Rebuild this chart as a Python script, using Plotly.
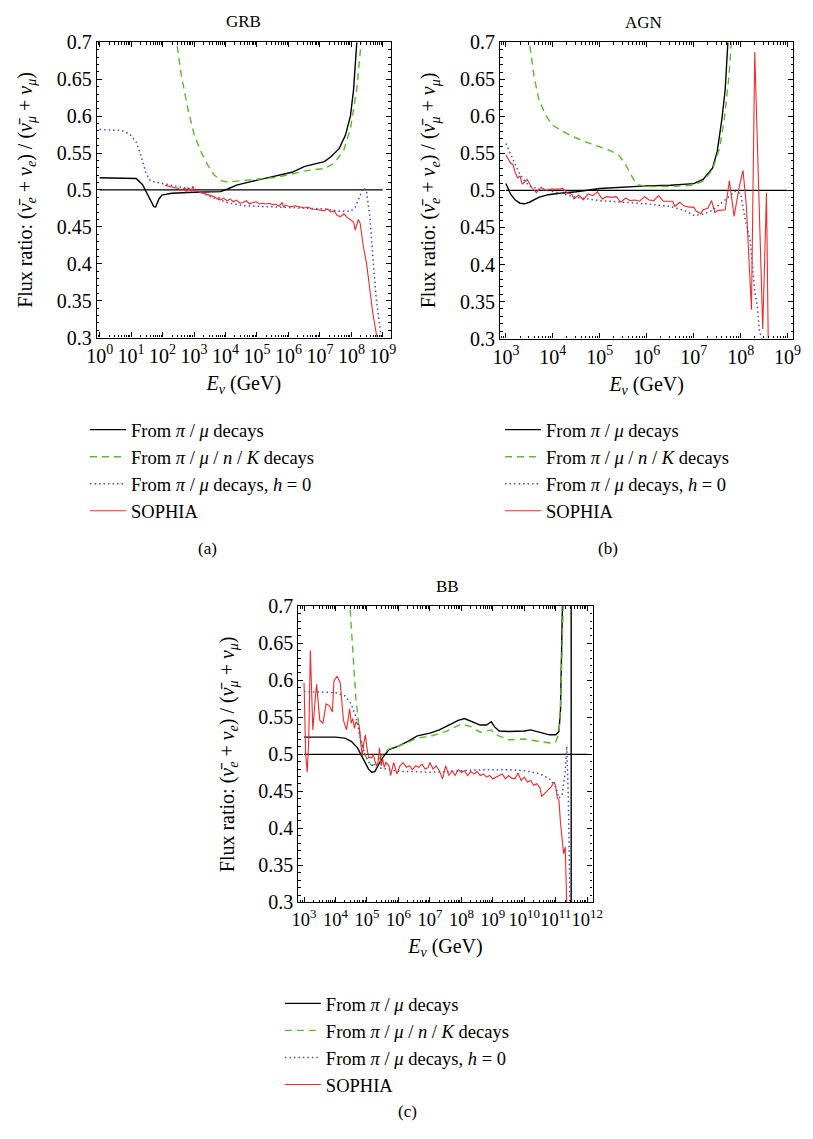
import numpy as np
import plotly.graph_objects as go

# ---------------- data (log10 of E in GeV, flux ratio) ----------------
# Panel (a) GRB
grb_pimu_logE = [0, 0.95, 1.16, 1.36, 1.52, 1.62, 1.72, 1.78, 1.88, 1.98, 2.29, 3.01, 3.53, 3.84,
                 4.05, 4.35, 4.77, 5.08, 5.59, 6.11, 6.52, 6.83, 7.14, 7.35, 7.61, 7.81, 7.97, 8.07,
                 8.17, 8.20, 8.30]
grb_pimu_ratio = [0.5165, 0.516, 0.5155, 0.5075, 0.494, 0.4855, 0.4775, 0.477, 0.4875, 0.493, 0.4955,
                  0.497, 0.497, 0.4977, 0.501, 0.5066, 0.511, 0.514, 0.5186, 0.524, 0.532, 0.535,
                  0.5385, 0.545, 0.556, 0.574, 0.600, 0.636, 0.685, 0.700, 0.780]
grb_all_logE = [2.40, 2.45, 2.60, 2.81, 3.01, 3.22, 3.43, 3.63, 3.84, 4.05, 4.35, 4.77, 5.08, 5.59,
                6.11, 6.62, 7.14, 7.45, 7.76, 7.97, 8.17, 8.28, 8.31, 8.38]
grb_all_ratio = [0.76, 0.70, 0.654, 0.609, 0.574, 0.552, 0.534, 0.521, 0.513, 0.5106, 0.512, 0.514,
                 0.5155, 0.517, 0.5217, 0.5266, 0.529, 0.536, 0.554, 0.583, 0.636, 0.680, 0.700, 0.780]
grb_h0_logE = [0, 0.70, 0.95, 1.16, 1.31, 1.47, 1.62, 1.98, 2.50, 3.01, 3.53, 4.05, 4.56, 5.08, 5.59,
               6.11, 6.62, 7.14, 7.66, 7.97, 8.12, 8.28, 8.38, 8.48, 8.59, 8.69, 8.79, 8.90, 8.95, 9.00]
grb_h0_ratio = [0.582, 0.5806, 0.576, 0.565, 0.547, 0.523, 0.512, 0.5089, 0.5053, 0.500, 0.4907,
                0.483, 0.4787, 0.4778, 0.4774, 0.4765, 0.4752, 0.4743, 0.471, 0.471, 0.4765, 0.492,
                0.503, 0.4987, 0.463, 0.4056, 0.3525, 0.317, 0.300, 0.280]
grb_sophia_logE = [2.08, 2.19, 2.29, 2.39, 2.50, 2.60, 2.70, 2.76, 2.81, 2.91, 2.96, 3.01, 3.12, 3.22,
                   3.32, 3.43, 3.53, 3.63, 3.74, 3.79, 3.84, 3.94, 4.05, 4.15, 4.25, 4.35, 4.46, 4.56,
                   4.66, 4.77, 4.87, 4.97, 5.08, 5.18, 5.28, 5.39, 5.49, 5.59, 5.70, 5.80, 5.85, 5.90,
                   6.01, 6.11, 6.21, 6.32, 6.42, 6.52, 6.63, 6.73, 6.83, 6.93, 7.04, 7.14, 7.24, 7.35,
                   7.45, 7.55, 7.66, 7.76, 7.86, 7.97, 8.07, 8.12, 8.17, 8.22, 8.28, 8.38, 8.48, 8.59,
                   8.69, 8.79, 8.82, 8.85]
grb_sophia_ratio = [0.5062, 0.505, 0.5044, 0.503, 0.502, 0.4995, 0.503, 0.497, 0.503, 0.4987, 0.505,
                    0.4995, 0.498, 0.4965, 0.495, 0.4934, 0.492, 0.491, 0.4876, 0.490, 0.4863, 0.489,
                    0.4854, 0.4876, 0.484, 0.4863, 0.482, 0.483, 0.4854, 0.481, 0.483, 0.484, 0.481,
                    0.482, 0.481, 0.482, 0.480, 0.481, 0.478, 0.483, 0.4765, 0.4796, 0.478, 0.4774,
                    0.4785, 0.4774, 0.4765, 0.4756, 0.4768, 0.4743, 0.4738, 0.473, 0.4725, 0.472,
                    0.4743, 0.470, 0.472, 0.4654, 0.464, 0.4677, 0.4632, 0.4597, 0.4566, 0.4455,
                    0.4544, 0.460, 0.4544, 0.4234, 0.4012, 0.3658, 0.3303, 0.306, 0.300, 0.280]
grb_ref_logE = [0, 9]
grb_ref_ratio = [0.5, 0.5]

# Panel (b) AGN
agn_pimu_logE = [3.0, 3.1, 3.2, 3.3, 3.4, 3.5, 3.7, 3.9, 4.1, 4.5, 5.0, 5.5, 6.0, 6.5, 7.0, 7.2, 7.4,
                 7.5, 7.6, 7.67, 7.72, 7.75, 7.80]
agn_pimu_ratio = [0.5093, 0.495, 0.487, 0.4828, 0.482, 0.4841, 0.4907, 0.4943, 0.496, 0.4982, 0.5026,
                  0.5048, 0.5062, 0.507, 0.5093, 0.515, 0.530, 0.5524, 0.5965, 0.636, 0.680, 0.700,
                  0.780]
agn_all_logE = [3.45, 3.50, 3.60, 3.70, 3.85, 4.0, 4.3, 4.6, 4.9, 5.2, 5.4, 5.55, 5.7, 5.8, 6.0, 6.5,
                7.0, 7.2, 7.4, 7.55, 7.65, 7.75, 7.80, 7.85]
agn_all_ratio = [0.76, 0.70, 0.654, 0.623, 0.601, 0.5877, 0.5767, 0.568, 0.561, 0.5546, 0.548, 0.535,
                 0.517, 0.508, 0.5053, 0.5053, 0.507, 0.5128, 0.528, 0.557, 0.596, 0.654, 0.700, 0.780]
agn_h0_logE = [3.0, 3.1, 3.2, 3.3, 3.4, 3.5, 3.7, 4.0, 4.5, 5.0, 5.5, 6.0, 6.5, 6.8, 7.0, 7.2, 7.4,
               7.6, 7.8, 7.9, 8.0, 8.1, 8.2, 8.25, 8.3, 8.35, 8.4, 8.45, 8.5]
agn_h0_ratio = [0.5634, 0.548, 0.535, 0.5216, 0.5128, 0.506, 0.5018, 0.4987, 0.4907, 0.4863, 0.4841,
                0.482, 0.4784, 0.4731, 0.4665, 0.4678, 0.4731, 0.4841, 0.4952, 0.4996, 0.4952, 0.460,
                0.4335, 0.394, 0.363, 0.3454, 0.310, 0.300, 0.280]
agn_sophia_logE = [3.0, 3.05, 3.1, 3.15, 3.2, 3.25, 3.3, 3.35, 3.45, 3.55, 3.65, 3.75, 3.85, 3.95,
                   4.05, 4.15, 4.2, 4.3, 4.4, 4.45, 4.55, 4.65, 4.75, 4.85, 4.95, 5.05, 5.15, 5.25,
                   5.35, 5.45, 5.55, 5.65, 5.75, 5.85, 5.95, 6.05, 6.15, 6.25, 6.35, 6.45, 6.55, 6.6,
                   6.7, 6.8, 6.9, 7.0, 7.05, 7.15, 7.2, 7.3, 7.38, 7.45, 7.52, 7.6, 7.67, 7.76, 7.86,
                   7.97, 8.05, 8.12, 8.23, 8.30, 8.47, 8.55, 8.59]
agn_sophia_ratio = [0.548, 0.5414, 0.537, 0.5348, 0.5238, 0.517, 0.5194, 0.5084, 0.515, 0.504, 0.497,
                    0.504, 0.5004, 0.5018, 0.5018, 0.5018, 0.503, 0.497, 0.4952, 0.4885, 0.4938,
                    0.4872, 0.4952, 0.493, 0.4982, 0.4885, 0.4916, 0.4907, 0.4916, 0.4841, 0.4899,
                    0.4863, 0.4872, 0.4855, 0.4916, 0.4872, 0.4863, 0.493, 0.4855, 0.4855, 0.4855,
                    0.4784, 0.4841, 0.4789, 0.4775, 0.4775, 0.4722, 0.4687, 0.474, 0.476, 0.4863,
                    0.470, 0.4731, 0.4735, 0.474, 0.513, 0.465, 0.505, 0.527, 0.480, 0.339, 0.687,
                    0.313, 0.497, 0.280]
agn_ref_logE = [3, 9]
agn_ref_ratio = [0.5, 0.5]

# Panel (c) BB
bb_pimu_logE = [3.0, 3.5, 4.0, 4.3, 4.5, 4.7, 4.9, 5.05, 5.15, 5.25, 5.35, 5.5, 5.7, 6.0, 6.3, 6.6,
                7.0, 7.3, 7.6, 7.9, 8.1, 8.3, 8.6, 8.8, 8.95, 9.05, 9.2, 9.5, 10.0, 10.2, 10.5, 10.8,
                11.0, 11.1, 11.15, 11.2, 11.25, 11.3, 11.49, 11.49]
bb_pimu_ratio = [0.5233, 0.5233, 0.5233, 0.522, 0.5176, 0.5088, 0.4934, 0.480, 0.4758, 0.4767,
                 0.4846, 0.4956, 0.5066, 0.511, 0.5176, 0.525, 0.5286, 0.533, 0.5396, 0.546, 0.5484,
                 0.5453, 0.5396, 0.5396, 0.544, 0.5374, 0.5316, 0.5308, 0.5316, 0.533, 0.5294,
                 0.5264, 0.5264, 0.5308, 0.5593, 0.6385, 0.700, 0.900, 1.000, 0.000]
bb_all_logE = [4.40, 4.46, 4.55, 4.65, 4.75, 4.85, 4.95, 5.05, 5.15, 5.25, 5.35, 5.5, 5.7, 6.0, 6.3,
               6.6, 7.0, 7.5, 8.0, 8.3, 8.6, 8.95, 9.1, 9.5, 10.0, 10.5, 10.8, 11.0, 11.1, 11.15,
               11.2, 11.25, 11.3]
bb_all_ratio = [0.76, 0.70, 0.640, 0.575, 0.535, 0.512, 0.498, 0.489, 0.485, 0.486, 0.491, 0.500,
                0.5075, 0.511, 0.5163, 0.522, 0.5242, 0.5308, 0.5409, 0.5374, 0.5299, 0.533, 0.5264,
                0.5198, 0.5207, 0.5176, 0.5154, 0.5167, 0.5286, 0.5637, 0.6385, 0.700, 0.800]
bb_h0_logE = [3.0, 3.5, 4.0, 4.3, 4.5, 4.65, 4.8, 4.95, 5.1, 5.3, 5.6, 6.0, 6.5, 7.0, 7.5, 8.0, 8.5,
              9.0, 9.5, 10.0, 10.5, 10.8, 11.0, 11.1, 11.2, 11.3, 11.35, 11.4, 11.45, 11.47]
bb_h0_ratio = [0.5848, 0.5844, 0.5835, 0.579, 0.568, 0.5505, 0.5198, 0.4978, 0.4868, 0.4824, 0.4802,
               0.4771, 0.4767, 0.4758, 0.4767, 0.478, 0.4789, 0.4793, 0.4793, 0.478, 0.4736, 0.467,
               0.456, 0.4407, 0.445, 0.4758, 0.511, 0.4407, 0.300, 0.250]
bb_sophia_logE = [3.0, 3.05, 3.1, 3.15, 3.2, 3.28, 3.35, 3.4, 3.5, 3.6, 3.7, 3.8, 3.9, 3.95, 4.05,
                  4.15, 4.25, 4.35, 4.45, 4.5, 4.55, 4.6, 4.65, 4.7, 4.75, 4.8, 4.85, 4.9, 4.95, 5.0,
                  5.05, 5.15, 5.2, 5.25, 5.3, 5.35, 5.4, 5.45, 5.5, 5.55, 5.6, 5.7, 5.75, 5.85, 5.95,
                  6.05, 6.15, 6.25, 6.35, 6.45, 6.55, 6.65, 6.75, 6.85, 6.95, 7.0, 7.1, 7.2, 7.3,
                  7.4, 7.5, 7.6, 7.7, 7.8, 7.9, 8.0, 8.1, 8.2, 8.3, 8.4, 8.5, 8.6, 8.7, 8.8, 8.9,
                  9.0, 9.1, 9.2, 9.3, 9.4, 9.5, 9.6, 9.7, 9.8, 9.9, 10.0, 10.1, 10.2, 10.3, 10.4,
                  10.5, 10.55, 10.65, 10.75, 10.85, 10.95, 11.0, 11.05, 11.1, 11.15, 11.2, 11.25,
                  11.3, 11.35, 11.37]
bb_sophia_ratio = [0.5967, 0.502, 0.4758, 0.5198, 0.6407, 0.533, 0.5725, 0.5945, 0.5462, 0.5418,
                   0.5681, 0.5659, 0.5571, 0.5989, 0.6055, 0.5967, 0.5462, 0.533, 0.5615, 0.5418,
                   0.5484, 0.5352, 0.544, 0.5418, 0.5396, 0.5154, 0.4978, 0.5154, 0.5264, 0.5088,
                   0.4956, 0.4956, 0.500, 0.4912, 0.4846, 0.489, 0.5088, 0.4846, 0.4934, 0.4824,
                   0.489, 0.4846, 0.4714, 0.489, 0.4736, 0.4846, 0.489, 0.4824, 0.4846, 0.4793,
                   0.4846, 0.4824, 0.4868, 0.4802, 0.4824, 0.489, 0.4802, 0.4846, 0.478, 0.467,
                   0.4846, 0.4714, 0.478, 0.4714, 0.4793, 0.4758, 0.478, 0.4714, 0.4767, 0.4736,
                   0.4767, 0.4714, 0.4736, 0.4692, 0.4714, 0.467, 0.4692, 0.4705, 0.4736, 0.467,
                   0.4714, 0.4679, 0.467, 0.4749, 0.4648, 0.4692, 0.4626, 0.4648, 0.4582, 0.4604,
                   0.4547, 0.4429, 0.4473, 0.4516, 0.456, 0.4626, 0.456, 0.4407, 0.4385, 0.4077,
                   0.3857, 0.366, 0.3747, 0.300, 0.265]
bb_ref_logE = [3, 12]
bb_ref_ratio = [0.5, 0.5]

# tick labels
y_tick_vals = [0.3, 0.35, 0.4, 0.45, 0.5, 0.55, 0.6, 0.65, 0.7]
y_tick_text = ["0.3", "0.35", "0.4", "0.45", "0.5", "0.55", "0.6", "0.65", "0.7"]

legend_names = [
    "From <i>π</i> / <i>μ</i> decays",
    "From <i>π</i> / <i>μ</i> / <i>n</i> / <i>K</i> decays",
    "From <i>π</i> / <i>μ</i> decays, <i>h</i> = 0",
    "SOPHIA",
]

# ---------------- styling ----------------
FONT = "Liberation Serif, Times New Roman, serif"
W, H = 813, 1139
COL_BLACK = "#000000"
COL_GREEN = "#5cba2c"
COL_BLUE = "#3b4fd0"
COL_RED = "#f02a2a"
styles = [
    dict(color=COL_BLACK, width=1.4, dash="solid"),
    dict(color=COL_GREEN, width=1.4, dash="7px,5px"),
    dict(color=COL_BLUE, width=1.5, dash="1.5px,3px"),
    dict(color=COL_RED, width=1.1, dash="solid"),
]


def E(logs):
    return [10.0 ** v for v in logs]


def px_x(p):
    return p / W


def px_y(p):
    return 1 - p / H


panels = [
    dict(key="a", xa="x", ya="y", leg="legend", title="GRB", caption="(a)",
         series=[(grb_pimu_logE, grb_pimu_ratio), (grb_all_logE, grb_all_ratio),
                 (grb_h0_logE, grb_h0_ratio), (grb_sophia_logE, grb_sophia_ratio)],
         ref=(grb_ref_logE, grb_ref_ratio),
         xdom=(88, 390), ydom=(32, 333), xrange=(-0.093, 9.257), decades=range(0, 10),
         xtick_size=20, title_xy=(239, 11), cap_xy=(202, 548), leg_xy=(76, 408)),
    dict(key="b", xa="x2", ya="y2", leg="legend2", title="AGN", caption="(b)",
         series=[(agn_pimu_logE, agn_pimu_ratio), (agn_all_logE, agn_all_ratio),
                 (agn_h0_logE, agn_h0_ratio), (agn_sophia_logE, agn_sophia_ratio)],
         ref=(agn_ref_logE, agn_ref_ratio),
         xdom=(502, 803), ydom=(32, 334), xrange=(2.875, 9.12), decades=range(3, 10),
         xtick_size=20, title_xy=(649, 12), cap_xy=(613, 548), leg_xy=(502, 408)),
    dict(key="c", xa="x3", ya="y3", leg="legend3", title="BB", caption="(c)",
         series=[(bb_pimu_logE, bb_pimu_ratio), (bb_all_logE, bb_all_ratio),
                 (bb_h0_logE, bb_h0_ratio), (bb_sophia_logE, bb_sophia_ratio)],
         ref=(bb_ref_logE, bb_ref_ratio),
         xdom=(295, 597), ydom=(607, 909), xrange=(2.82, 12.17), decades=range(3, 13),
         xtick_size=18.5, title_xy=(448, 587), cap_xy=(407, 1122), leg_xy=(276, 993)),
]

fig = go.Figure()
layout_axes = {}
annotations = []
legends = {}

for p in panels:
    # reference line at 0.5
    fig.add_trace(go.Scatter(x=E(p["ref"][0]), y=p["ref"][1], mode="lines",
                             line=dict(color=COL_BLACK, width=1.2), showlegend=False,
                             hoverinfo="skip", xaxis=p["xa"], yaxis=p["ya"]))
    for i, ((lx, ly), name, st) in enumerate(zip(p["series"], legend_names, styles)):
        fig.add_trace(go.Scatter(x=E(lx), y=ly, mode="lines", name=name, line=st,
                                 legend=p["leg"], legendgroup=f"{p['key']}{i}",
                                 xaxis=p["xa"], yaxis=p["ya"]))

    xa_name = "xaxis" + p["xa"][1:]
    ya_name = "yaxis" + p["ya"][1:]
    decs = list(p["decades"])
    minor_vals = [k * 10.0 ** n for n in range(decs[0] - 1, decs[-1] + 1) for k in range(2, 10)]
    layout_axes[xa_name] = dict(
        type="log", domain=[px_x(p["xdom"][0]), px_x(p["xdom"][1])], range=list(p["xrange"]),
        anchor=p["ya"], tickvals=[10.0 ** n for n in decs],
        ticktext=[f"10<sup>{n}</sup>" for n in decs], tickangle=0,
        ticks="inside", ticklen=5, tickwidth=1, tickcolor="black",
        minor=dict(tickvals=minor_vals, ticks="inside", ticklen=2.5, tickcolor="black", tickwidth=0.8),
        showline=True, linecolor="black", linewidth=1.2, mirror="allticks",
        showgrid=False, zeroline=False,
        tickfont=dict(family=FONT, size=p["xtick_size"], color="black"),
        title=dict(text="<i>E</i><sub><i>ν</i></sub> (GeV)", standoff=10,
                   font=dict(family=FONT, size=20, color="black")),
    )
    layout_axes[ya_name] = dict(
        domain=[px_y(p["ydom"][1]), px_y(p["ydom"][0])], range=[0.3, 0.7], anchor=p["xa"],
        tickvals=y_tick_vals, ticktext=y_tick_text,
        ticks="inside", ticklen=5, tickwidth=1, tickcolor="black",
        minor=dict(dtick=0.01, ticks="inside", ticklen=2.5, tickcolor="black", tickwidth=0.8),
        showline=True, linecolor="black", linewidth=1.2, mirror="allticks",
        showgrid=False, zeroline=False,
        tickfont=dict(family=FONT, size=20, color="black"),
        title=dict(text="Flux ratio: (<i>ν̄</i><sub><i>e</i></sub> + <i>ν</i><sub><i>e</i></sub>) / "
                        "(<i>ν̄</i><sub><i>μ</i></sub> + <i>ν</i><sub><i>μ</i></sub>)",
                   standoff=18, font=dict(family=FONT, size=20, color="black")),
    )
    annotations.append(dict(text=p["title"], x=px_x(p["title_xy"][0]), y=px_y(p["title_xy"][1]),
                            xref="paper", yref="paper", showarrow=False, xanchor="center",
                            yanchor="middle", font=dict(family=FONT, size=17, color="black")))
    annotations.append(dict(text=p["caption"], x=px_x(p["cap_xy"][0]), y=px_y(p["cap_xy"][1]),
                            xref="paper", yref="paper", showarrow=False, xanchor="center",
                            yanchor="middle", font=dict(family=FONT, size=17, color="black")))
    legends[p["leg"]] = dict(x=px_x(p["leg_xy"][0]), y=px_y(p["leg_xy"][1]), xanchor="left",
                             yanchor="top", bgcolor="rgba(0,0,0,0)", borderwidth=0,
                             font=dict(family=FONT, size=18.5, color="black"),
                             tracegroupgap=0, itemwidth=36)

fig.update_layout(
    width=W, height=H, margin=dict(l=0, r=0, t=0, b=0),
    paper_bgcolor="white", plot_bgcolor="white",
    font=dict(family=FONT, color="black"),
    annotations=annotations, **layout_axes, **legends,
)

fig.write_html("out.html")
